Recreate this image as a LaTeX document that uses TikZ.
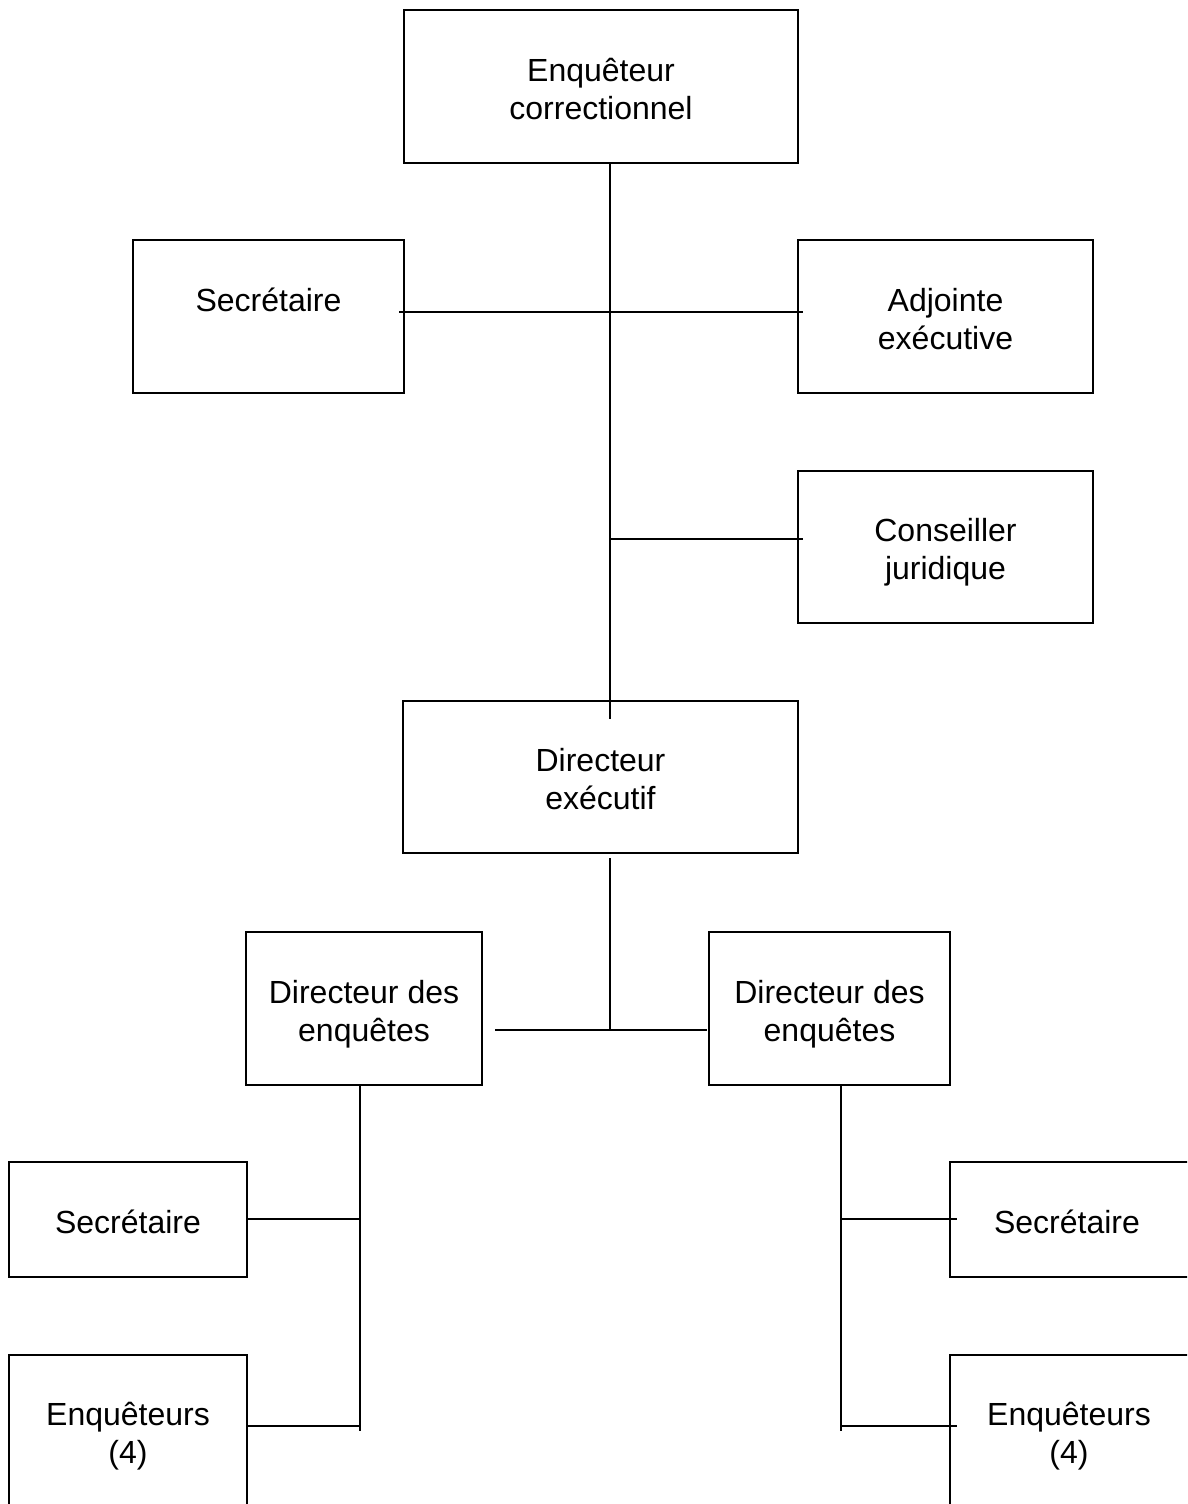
\documentclass[tikz,border=0pt]{standalone}
\usepackage{fontspec}
\setmainfont{Liberation Sans}
\newcommand{\boxlbl}[1]{\raisebox{-6pt}[\height][\depth]{\begin{tabular}{@{}c@{}}#1\end{tabular}}}
\begin{document}
\begin{tikzpicture}[x=1pt,y=-1pt,
  box/.style={draw=black,line width=1.9pt,inner sep=0pt,align=center,
    font=\fontsize{32}{38}\selectfont},
  txt/.style={inner sep=0pt,align=center,font=\fontsize{32}{38}\selectfont},
  conn/.style={draw=black,line width=1.4pt}]
\useasboundingbox (0,0) rectangle (1187,1504);
\clip (0,0) rectangle (1187,1504);
\fill[white] (0,0) rectangle (1187,1504);
% boxes
\node[box,minimum width=394pt,minimum height=153pt] (top) at (601,86.5) {\boxlbl{Enquêteur\\correctionnel}};
\node[box,minimum width=271pt,minimum height=153pt] (sec1) at (268.5,316.5) {\boxlbl{Secrétaire\\\mbox{}}};
\node[box,minimum width=295pt,minimum height=153pt] (adj) at (945.5,316.5) {\boxlbl{Adjointe\\exécutive}};
\node[box,minimum width=295pt,minimum height=152pt] (cons) at (945.5,547) {\boxlbl{Conseiller\\juridique}};
\node[box,minimum width=395pt,minimum height=152pt] (dir) at (600.5,777) {\boxlbl{Directeur\\exécutif}};
\node[box,minimum width=236pt,minimum height=153pt] (dl) at (364,1008.5) {\boxlbl{Directeur des\\enquêtes}};
\node[box,minimum width=241pt,minimum height=153pt] (dr) at (829.5,1008.5) {\boxlbl{Directeur des\\enquêtes}};
\node[box,minimum width=238pt,minimum height=115pt] (lsec) at (128,1219.5) {\boxlbl{Secrétaire}};
\node[box,minimum width=238pt,minimum height=152pt] (lenq) at (128,1431) {\boxlbl{Enquêteurs\\(4)}};
\node[box,minimum width=260pt,minimum height=115pt,anchor=west] (rsec) at (949,1219.5) {};
\node[txt] (rsect) at (1067,1219.5) {\boxlbl{Secrétaire}};
\node[box,minimum width=260pt,minimum height=152pt,anchor=west] (renq) at (949,1431) {};
\node[txt] (renqt) at (1069,1431) {\boxlbl{Enquêteurs\\(4)}};
% connector points
\coordinate (s1) at (610,163);
\coordinate (s2) at (610,719);
\coordinate (h1a) at (399,312);
\coordinate (h1b) at (803,312);
\coordinate (h2a) at (610,539);
\coordinate (h2b) at (803,539);
\coordinate (s3) at (610,858);
\coordinate (s4) at (610,1031);
\coordinate (h3a) at (495,1030);
\coordinate (h3b) at (707,1030);
\coordinate (l1) at (360,1085);
\coordinate (l2) at (360,1431);
\coordinate (l3) at (360,1219);
\coordinate (l4) at (360,1426);
\coordinate (r1) at (841,1085);
\coordinate (r2) at (841,1431);
\coordinate (r3) at (957,1219);
\coordinate (r4) at (957,1426);
% connectors
\draw[conn] (s1) -- (s2);
\draw[conn] (h1a) -- (h1b);
\draw[conn] (h2a) -- (h2b);
\draw[conn] (s3) -- (s4);
\draw[conn] (h3a) -- (h3b);
\draw[conn] (l1) -- (l2);
\draw[conn] (lsec.east |- l3) -- (l3);
\draw[conn] (lenq.east |- l4) -- (l4);
\draw[conn] (r1) -- (r2);
\draw[conn] (r1 |- r3) -- (r3);
\draw[conn] (r1 |- r4) -- (r4);
\end{tikzpicture}
\end{document}
